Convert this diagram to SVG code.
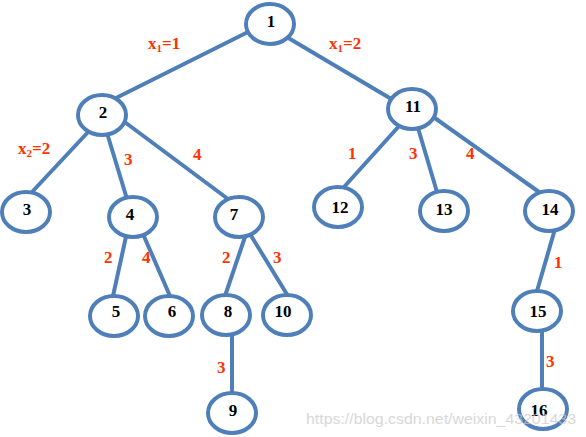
<svg xmlns="http://www.w3.org/2000/svg" width="586" height="437" viewBox="0 0 586 437">
<style>
.e{stroke:#4f7fb8;stroke-width:4;fill:none;stroke-linecap:round}
.n ellipse{fill:#fff;stroke:#4f7fb8;stroke-width:4}
.n text{font-family:'Liberation Serif','Times New Roman',serif;font-weight:bold;font-size:17px;fill:#000;text-anchor:middle}
.l{font-family:'Liberation Serif','Times New Roman',serif;font-weight:bold;font-size:17px;fill:#ff3300}
.s{font-size:11px}
.w{font-family:'Liberation Sans',Arial,sans-serif;font-size:15px;fill:#c8c8c8;opacity:0.7}
</style>
<rect width="586" height="437" fill="#fff"/>
<g id="connectors">
<line class="e" x1="250" y1="31" x2="114" y2="99"/>
<line class="e" x1="285" y1="36" x2="393" y2="100"/>
<line class="e" x1="90" y1="130" x2="32" y2="192"/>
<line class="e" x1="107" y1="133" x2="127" y2="199"/>
<line class="e" x1="122" y1="120" x2="228" y2="199"/>
<line class="e" x1="400" y1="125" x2="344" y2="187"/>
<line class="e" x1="418" y1="128" x2="437" y2="192"/>
<line class="e" x1="432" y1="116" x2="539" y2="192"/>
<line class="e" x1="127" y1="232" x2="113" y2="296"/>
<line class="e" x1="143" y1="234" x2="170" y2="296"/>
<line class="e" x1="246" y1="234" x2="225" y2="296"/>
<line class="e" x1="250" y1="234" x2="288" y2="296"/>
<line class="e" x1="232" y1="333" x2="232" y2="395"/>
<line class="e" x1="555" y1="229" x2="537" y2="291"/>
<line class="e" x1="542" y1="329" x2="542" y2="390"/>
</g>
<g id="node1" class="n"><ellipse cx="270" cy="24" rx="24" ry="20"/><text x="271" y="27">1</text></g>
<g id="node2" class="n"><ellipse cx="102" cy="115" rx="24" ry="20"/><text x="103" y="118">2</text></g>
<g id="node11" class="n"><ellipse cx="412" cy="109" rx="24" ry="20"/><text x="413" y="112">11</text></g>
<g id="node3" class="n"><ellipse cx="26" cy="212" rx="24" ry="20"/><text x="27" y="215">3</text></g>
<g id="node4" class="n"><ellipse cx="133" cy="217" rx="24" ry="20"/><text x="130" y="220">4</text></g>
<g id="node7" class="n"><ellipse cx="239" cy="217" rx="24" ry="20"/><text x="234" y="220">7</text></g>
<g id="node12" class="n"><ellipse cx="338" cy="207" rx="24" ry="20"/><text x="340" y="213">12</text></g>
<g id="node13" class="n"><ellipse cx="444" cy="211" rx="24" ry="20"/><text x="444" y="215">13</text></g>
<g id="node14" class="n"><ellipse cx="549" cy="211" rx="24" ry="20"/><text x="550" y="215">14</text></g>
<g id="node5" class="n"><ellipse cx="114" cy="316" rx="24" ry="20"/><text x="116" y="317">5</text></g>
<g id="node6" class="n"><ellipse cx="169" cy="316" rx="24" ry="20"/><text x="172" y="317">6</text></g>
<g id="node8" class="n"><ellipse cx="226" cy="315" rx="24" ry="20"/><text x="228" y="317">8</text></g>
<g id="node10" class="n"><ellipse cx="287" cy="315" rx="24" ry="20"/><text x="283" y="317">10</text></g>
<g id="node9" class="n"><ellipse cx="232" cy="413" rx="24" ry="20"/><text x="233" y="416">9</text></g>
<g id="node15" class="n"><ellipse cx="537" cy="311" rx="24" ry="20"/><text x="538" y="317">15</text></g>
<g id="node16" class="n"><ellipse cx="543" cy="409" rx="24" ry="20"/><text x="539" y="416">16</text></g>
<g id="labels">
<text class="l" x="148" y="49">x<tspan class="s" dy="3">1</tspan><tspan dy="-3">=1</tspan></text>
<text class="l" x="329" y="49">x<tspan class="s" dy="3">1</tspan><tspan dy="-3">=2</tspan></text>
<text class="l" x="18" y="154">x<tspan class="s" dy="3">2</tspan><tspan dy="-3">=2</tspan></text>
<text class="l" x="124" y="165">3</text>
<text class="l" x="193" y="160">4</text>
<text class="l" x="348" y="159">1</text>
<text class="l" x="409" y="159">3</text>
<text class="l" x="466" y="159">4</text>
<text class="l" x="104" y="263">2</text>
<text class="l" x="142" y="263">4</text>
<text class="l" x="222" y="263">2</text>
<text class="l" x="273" y="263">3</text>
<text class="l" x="217" y="373">3</text>
<text class="l" x="554" y="268">1</text>
<text class="l" x="546" y="367">3</text>
</g>
<text class="w" x="306" y="424" textLength="270" lengthAdjust="spacingAndGlyphs">https://blog.csdn.net/weixin_43201433</text>
</svg>
